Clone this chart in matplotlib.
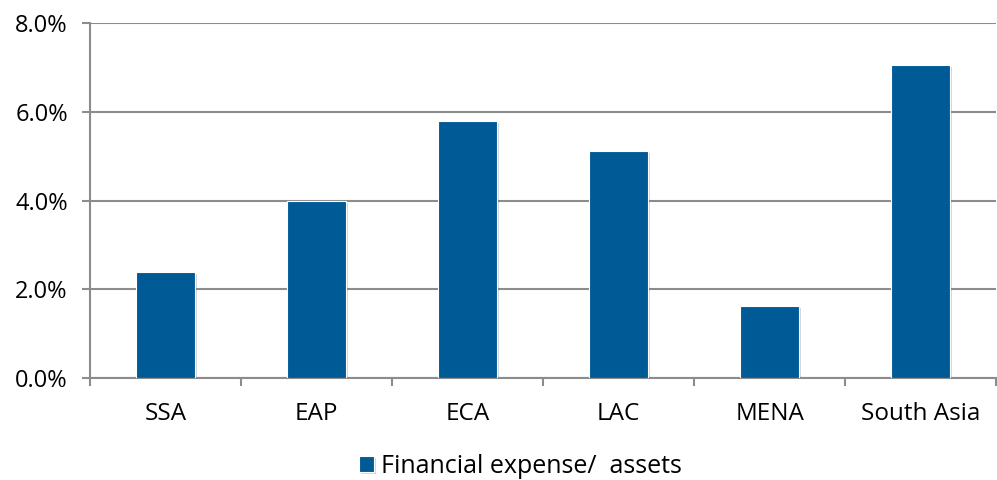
import matplotlib
matplotlib.use("Agg")
from matplotlib import pyplot as plt
from matplotlib import patheffects
from matplotlib.ticker import PercentFormatter, FixedLocator
import numpy as np

regions = ["SSA", "EAP", "ECA", "LAC", "MENA", "South Asia"]
fin_expense = [2.38, 3.99, 5.79, 5.12, 1.63, 7.05]
y_ticks = [0, 2, 4, 6, 8]
series_name = "Financial expense/  assets"

bar_color = "#005a96"
grid_color = "#8c8c8c"

plt.rcParams["font.family"] = ["Open Sans", "DejaVu Sans"]

fig = plt.figure(figsize=(9.97, 4.8), dpi=100)
ax = fig.add_axes([0.0903, 0.2125, 0.909, 0.7395])

x = np.arange(len(regions))
bars = ax.bar(x, fin_expense, width=0.39, color=bar_color, edgecolor="white",
              linewidth=0.8, zorder=3, label=series_name)
for b in bars:
    b.set_path_effects([patheffects.SimplePatchShadow(offset=(1.5, -1.5), alpha=0.25,
                                                      shadow_rgbFace="#555555"),
                        patheffects.Normal()])

ax.set_xlim(-0.5, len(regions) - 0.5)
ax.set_ylim(0, 8)
ax.yaxis.set_major_locator(FixedLocator(y_ticks))
ax.yaxis.set_major_formatter(PercentFormatter(decimals=1))
ax.grid(axis="y", color=grid_color, linewidth=1.5, zorder=0)

ax.set_xticks(x)
ax.set_xticklabels(regions)
ax.set_xticks(np.arange(len(regions) + 1) - 0.5, minor=True)
ax.tick_params(axis="x", which="major", length=0, pad=17, labelsize=17.5)
ax.tick_params(axis="x", which="minor", length=6, width=1.5, color=grid_color, direction="out")
ax.tick_params(axis="y", length=6, width=1.5, color=grid_color, pad=10, labelsize=17)

for side in ["top", "right"]:
    ax.spines[side].set_visible(False)
for side in ["left", "bottom"]:
    ax.spines[side].set_color(grid_color)
    ax.spines[side].set_linewidth(1.5)

leg = fig.legend(handles=[bars], labels=[series_name], loc="center",
                 bbox_to_anchor=(0.522, 0.028), frameon=False, fontsize=18,
                 handlelength=0.6, handleheight=0.6, handletextpad=0.25)

fig.savefig("out.png", dpi=100)
